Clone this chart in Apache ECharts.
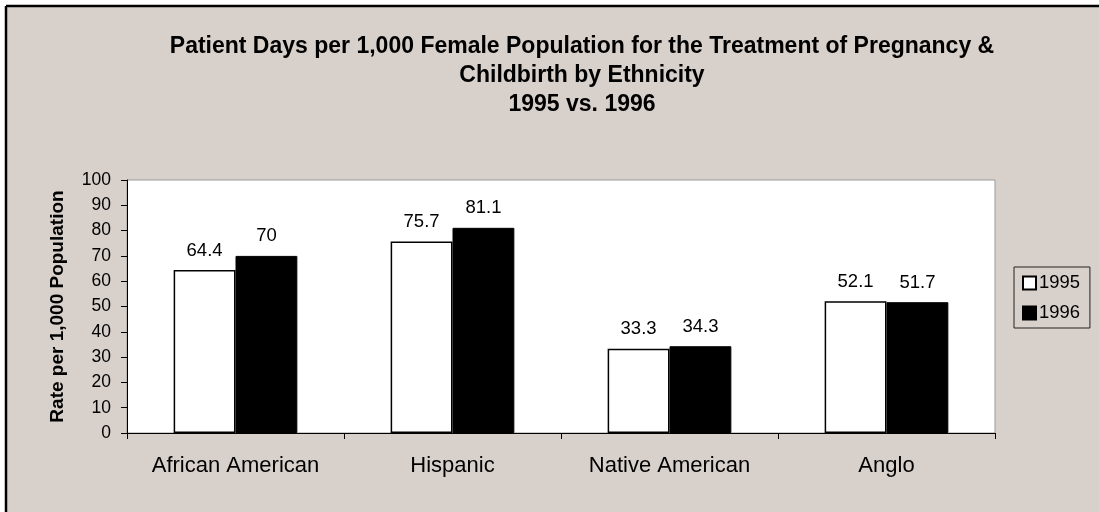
<!DOCTYPE html>
<html>
<head>
<meta charset="utf-8">
<script src="https://cdn.jsdelivr.net/npm/echarts@6/dist/echarts.min.js"></script>
<style>
html,body{margin:0;padding:0;background:#ffffff;}
#chart{width:1099px;height:512px;}
</style>
</head>
<body>
<div id="chart"></div>
<script>
const categories = ['African American', 'Hispanic', 'Native American', 'Anglo'];
const values1995 = [64.4, 75.7, 33.3, 52.1];
const values1996 = [70, 81.1, 34.3, 51.7];
const seriesNames = ['1995', '1996'];
const titleText = 'Patient Days per 1,000 Female Population for the Treatment of Pregnancy &\nChildbirth by Ethnicity\n1995 vs. 1996';
const yAxisName = 'Rate per 1,000 Population';

const FONT = '"Liberation Sans", Arial, sans-serif';
const chart = echarts.init(document.getElementById('chart'), null, {renderer: 'canvas'});
const labelCfg = {show: true, position: 'top', distance: 10, color: '#000', fontSize: 18.5, fontFamily: FONT};
chart.setOption({
  animation: false,
  backgroundColor: '#ffffff',
  graphic: [
    {type: 'rect', z: -10, silent: true, shape: {x: 6, y: 6, width: 1200, height: 600}, style: {fill: '#D8D0CB'}},
    {type: 'line', z: -9, silent: true, shape: {x1: 6, y1: 6, x2: 1099, y2: 6}, style: {stroke: '#000', lineWidth: 2.5}},
    {type: 'line', z: -9, silent: true, shape: {x1: 6, y1: 6, x2: 6, y2: 512}, style: {stroke: '#000', lineWidth: 2.5}}
  ],
  title: {
    text: titleText,
    left: 582, top: 32.5, textAlign: 'center', padding: 0,
    textStyle: {fontFamily: FONT, fontWeight: 'bold', fontSize: 23, lineHeight: 29, color: '#000'}
  },
  legend: {
    orient: 'vertical',
    left: 1014, top: 267,
    padding: [7, 10, 6, 8],
    itemGap: 12,
    itemWidth: 13, itemHeight: 13,
    icon: 'rect',
    borderColor: '#222', borderWidth: 1,
    textStyle: {fontFamily: FONT, fontSize: 18.4, color: '#000', padding: [0, 0, 0, -2]},
    data: seriesNames
  },
  grid: {
    left: 127, right: 104, top: 180, bottom: 79,
    show: true, backgroundColor: '#ffffff', borderColor: '#999', borderWidth: 1,
    containLabel: false
  },
  xAxis: {
    type: 'category',
    data: categories,
    axisLine: {lineStyle: {color: '#000', width: 1}},
    axisTick: {show: true, length: 6, lineStyle: {color: '#000'}},
    axisLabel: {interval: 0, fontFamily: FONT, fontSize: 22, color: '#000', margin: 22}
  },
  yAxis: {
    type: 'value',
    min: 0, max: 100, interval: 10,
    name: yAxisName,
    nameLocation: 'middle',
    nameGap: 60,
    nameTextStyle: {fontFamily: FONT, fontWeight: 'bold', fontSize: 19, color: '#000'},
    splitLine: {show: false},
    axisLine: {show: true, lineStyle: {color: '#000', width: 1}},
    axisTick: {show: true, length: 6, lineStyle: {color: '#000'}},
    axisLabel: {fontFamily: FONT, fontSize: 17.5, color: '#000', margin: 16}
  },
  series: [
    {
      name: seriesNames[0], type: 'bar', data: values1995,
      barGap: '0%', barCategoryGap: '43%',
      itemStyle: {color: '#ffffff', borderColor: '#000', borderWidth: 1.5},
      label: labelCfg
    },
    {
      name: seriesNames[1], type: 'bar', data: values1996,
      itemStyle: {color: '#000000', borderColor: '#000', borderWidth: 1},
      label: labelCfg
    }
  ]
});
</script>
</body>
</html>
